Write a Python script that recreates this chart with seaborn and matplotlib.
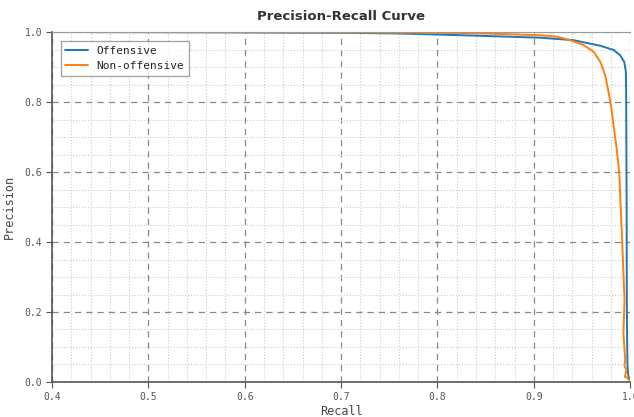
import matplotlib
matplotlib.use("Agg")
import matplotlib.pyplot as plt
from matplotlib.ticker import MultipleLocator, FormatStrFormatter
import seaborn as sns
import pandas as pd

# Offensive curve (recall, precision)
off_recall = [0.44, 0.50, 0.60, 0.70, 0.761, 0.80, 0.85, 0.9066, 0.941, 0.969, 0.9827,
              0.9896, 0.9938, 0.9955, 0.9958, 0.9960, 0.9963, 0.9965, 0.9968, 0.9972, 0.9980, 0.9990]
off_precision = [1.0, 1.0, 0.999, 0.998, 0.996, 0.993, 0.989, 0.984, 0.977, 0.961, 0.949,
                 0.934, 0.915, 0.887, 0.83, 0.706, 0.50, 0.234, 0.12, 0.044, 0.02, 0.006]

# Non-offensive curve (recall, precision)
non_recall = [0.44, 0.50, 0.60, 0.70, 0.80, 0.85, 0.9066, 0.924, 0.9377, 0.9515, 0.962, 0.969,
              0.974, 0.9775, 0.980, 0.9827, 0.9858, 0.9886, 0.9917, 0.9941, 0.9930, 0.9948,
              0.9940, 0.9962, 0.9945, 0.9968, 0.9989]
non_precision = [1.0, 1.0, 1.0, 0.999, 0.998, 0.996, 0.991, 0.987, 0.977, 0.963, 0.944, 0.915,
                 0.877, 0.829, 0.791, 0.734, 0.67, 0.60, 0.40, 0.234, 0.14, 0.063,
                 0.045, 0.035, 0.015, 0.012, 0.006]

df = pd.concat([
    pd.DataFrame({"Recall": off_recall, "Precision": off_precision, "cls": "Offensive"}),
    pd.DataFrame({"Recall": non_recall, "Precision": non_precision, "cls": "Non-offensive"}),
], ignore_index=True)

sns.set_style("white")
plt.rcParams["font.family"] = ["DejaVu Sans Mono"]

fig = plt.figure(figsize=(6.34, 4.17), dpi=100)
ax = fig.add_axes([0.082, 0.084, 0.912, 0.839])

sns.lineplot(data=df, x="Recall", y="Precision", hue="cls", sort=False,
             palette={"Offensive": "#1f77b4", "Non-offensive": "#ff7f0e"},
             linewidth=1.4, ax=ax, estimator=None)

ax.set_xlim(0.4, 1.0)
ax.set_ylim(0.0, 1.0)
ax.xaxis.set_major_locator(MultipleLocator(0.1))
ax.xaxis.set_minor_locator(MultipleLocator(0.02))
ax.yaxis.set_major_locator(MultipleLocator(0.2))
ax.yaxis.set_minor_locator(MultipleLocator(0.05))
ax.xaxis.set_major_formatter(FormatStrFormatter("%.1f"))
ax.yaxis.set_major_formatter(FormatStrFormatter("%.1f"))

ax.grid(which="major", linestyle=(0, (5, 4)), color="#888888", linewidth=0.9)
ax.grid(which="minor", linestyle=":", color="#cccccc", linewidth=0.8)
ax.set_axisbelow(True)

for s in ["left", "bottom"]:
    ax.spines[s].set_color("#555555")
    ax.spines[s].set_linewidth(1.2)
ax.spines["top"].set_color("#999999")
ax.spines["top"].set_linewidth(0.8)
ax.spines["right"].set_visible(False)

ax.tick_params(which="major", direction="out", length=4, width=0.8, color="#555555",
               labelsize=7, labelcolor="#555555", left=True, bottom=True, pad=3)
ax.tick_params(which="minor", length=0)

ax.set_xlabel("Recall", fontsize=8.5, color="#444444")
ax.xaxis.set_label_coords(0.5, -0.065)
ax.set_ylabel("Precision", fontsize=8.5, color="#444444")
ax.yaxis.set_label_coords(-0.062, 0.5)

ax.set_title("Precision-Recall Curve", fontsize=9.5, fontweight="bold",
             family=["DejaVu Sans"], color="#333333", pad=9)

leg = ax.legend(loc="upper left", fontsize=8, frameon=True, fancybox=False,
                edgecolor="#888888", borderpad=0.4, handlelength=2.0,
                bbox_to_anchor=(0.006, 0.99))
leg.get_frame().set_linewidth(0.9)
leg.set_title(None)

fig.savefig("out.png", dpi=100)
